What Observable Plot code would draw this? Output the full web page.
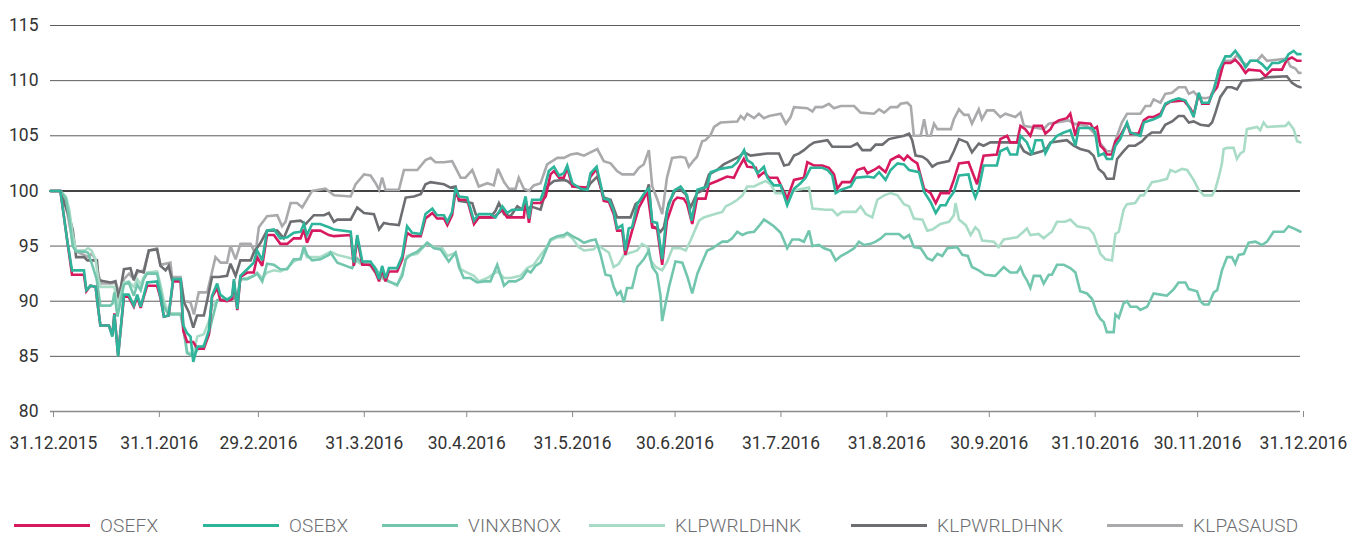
<!DOCTYPE html>
<html>
<head>
<meta charset="utf-8">
<script src="https://cdn.jsdelivr.net/npm/d3@7"></script>
<script src="https://cdn.jsdelivr.net/npm/@observablehq/plot@0.6"></script>
<style>
  html, body { margin: 0; padding: 0; background: #fff; }
  body { width: 1356px; height: 536px; position: relative; overflow: hidden;
         font-family: Roboto, "Noto Sans", "DejaVu Sans", sans-serif; }
  #chart svg { display: block; }
  #legend { position: absolute; left: 0; top: 513px; width: 1356px; height: 24px; }
  .item { position: absolute; top: 0; height: 24px; display: flex; align-items: center; }
  .sw { width: 76px; height: 3px; margin-right: 10px; }
  .lbl { font-size: 19px; font-weight: 300; color: #6d6e71; letter-spacing: 0.2px; }
</style>
</head>
<body>
<div id="chart"></div>
<div id="legend"></div>
<script>
// ---- categories / labels ----
const seriesNames = ["OSEFX", "OSEBX", "VINXBNOX", "KLPWRLDHNK", "KLPWRLDHNK", "KLPASAUSD"];
const tickDays = [0, 31, 60, 91, 121, 152, 182, 213, 244, 274, 305, 335, 366]; // days after 31.12.2015
const tickLabels = ["31.12.2015", "31.1.2016", "29.2.2016", "31.3.2016", "30.4.2016", "31.5.2016",
  "30.6.2016", "31.7.2016", "31.8.2016", "30.9.2016", "31.10.2016", "30.11.2016", "31.12.2016"];
const yTicks = [80, 85, 90, 95, 100, 105, 110, 115];

// ---- series values: [days after 31.12.2015, index value] ----
const osefx = [[0,100],[2.9,100],[4.9,95.5],[6.3,92.4],[9.8,92.4],[10.5,90.9],[11.7,91.4],[13.2,91.3],[13.9,89.5],[14.6,87.8],[17.1,87.8],[18.1,86.9],[18.7,88.9],[19.8,85.1],[21.5,90.4],[22.9,90.4],[24.4,89.5],[25.4,90.4],[26.4,89.4],[27.3,90.4],[28.3,91.4],[31.2,91.4],[32.2,90.3],[33.2,88.6],[34.6,88.7],[35.9,91.8],[38.1,91.8],[38.9,87.3],[40,86.3],[41.8,86.3],[43,85.7],[44.9,85.7],[46.4,87],[47.3,90.4],[48.8,91.2],[49.7,90.1],[51.7,90],[53.2,90.2],[53.7,91.8],[54.7,89.2],[55.6,92.2],[57.6,92.6],[59.5,92.6],[60.5,94],[62,93.2],[63.4,96],[65.4,96],[67.3,95.2],[69.3,95.2],[71.2,95.7],[73.2,95.7],[74.2,96.5],[75.1,95.3],[76.6,96.4],[79,96.4],[81.5,96],[83,95.9],[87.9,96],[88.8,93.2],[89.8,95.7],[91.3,93.3],[93.7,93.3],[95.2,92.6],[96.2,91.8],[97.1,92.9],[98.1,91.8],[99.1,92.7],[101.5,92.7],[103,93.8],[104.4,96.2],[105.9,95.9],[108.4,95.9],[109.8,97.5],[111.8,98],[113.2,97.5],[115.2,97.5],[116.2,96.9],[117.6,97.8],[118.6,100],[119.6,99.2],[122,99.2],[124,97],[125.4,97.6],[129.8,97.6],[132.3,98.3],[133.7,97.6],[138.6,97.6],[139.1,99.2],[140.1,97.1],[141,98.9],[143.5,98.9],[145,99.5],[146.4,101.5],[147.4,101.8],[148.9,101.2],[150.3,101.2],[151.3,102.1],[152.8,100.4],[157.2,100.3],[158.1,101.3],[159.9,102],[162,99.1],[163.5,99],[164.9,97.9],[165.9,96.4],[167.4,96.4],[168.3,94.2],[170.3,96.4],[172.3,98.5],[173.7,99.3],[174.7,100],[176.2,96.7],[177.6,96.6],[179.1,93.3],[180.5,97.3],[182.5,99.1],[183.5,99.4],[185.4,99.3],[186.4,98.8],[187.9,97],[189.3,99.3],[191.8,99.3],[192.8,100.6],[195.2,100.9],[198.1,101.3],[200.1,101.2],[201.5,102.1],[203,102.9],[204,102.2],[206.5,102.1],[207.4,101.3],[208.9,101.7],[210.4,101.2],[212.8,101.2],[215.7,99.3],[217.7,101],[220.6,101.2],[221.6,102.6],[223.6,102.3],[226,102.3],[227.9,102.1],[229.4,101.5],[230.4,100.2],[231.8,100.8],[234.3,100.8],[236.2,101.9],[238.2,102.1],[239.2,101.6],[241.1,101.9],[242.6,102.2],[244.5,101.7],[246,102.8],[248.4,103.2],[249.9,102.8],[250.9,103.2],[252.3,102.8],[253.8,102.5],[255.8,100.2],[257.7,99.8],[259.2,98.9],[260.6,99.8],[263.1,99.8],[264.5,101],[266,102.5],[268.8,102.6],[270.3,101.4],[271.3,100.6],[272.3,102],[273.2,103.2],[277.1,103.3],[278.1,104.7],[280.1,105],[281,104.4],[283,104.4],[284,105.9],[285.4,105.6],[286.9,105],[287.9,105.9],[290.3,105.9],[291.3,105.2],[292.8,105.6],[293.7,106.1],[295.2,106.4],[297.6,106.6],[298.6,107],[300.1,105],[301.1,106.2],[304.5,106.1],[305.4,105.6],[306.4,105.8],[307.4,104.1],[308.4,103.8],[309.3,103.3],[310.8,103.3],[311.8,104.5],[313.2,105],[315.2,106.1],[316.2,105.2],[318.6,105.2],[320.1,106.4],[321.5,106.7],[323,106.7],[325,107],[326.4,107.8],[327.9,108.1],[331.8,108.2],[333.7,107.5],[334.7,106.9],[336.2,108.8],[337.2,107.9],[339.1,107.9],[340.1,108.8],[341.6,109.4],[343.5,111.6],[345.5,111.6],[346.9,111.9],[348.4,111.4],[349.9,110.7],[350.8,111],[354.2,110.9],[355.7,110.4],[357.7,111],[360.6,111],[362,111.9],[363.5,112.1],[365,111.8],[366,111.8]];

const osebx = [[0,100],[2.9,100],[4.9,95.5],[6.3,92.8],[9.8,92.8],[10.5,91],[11.7,91.4],[13.2,91.3],[13.9,89.5],[14.6,87.8],[17.1,87.8],[18.1,86.8],[18.7,88.8],[19.8,85],[21.5,90.6],[22.9,90.6],[24.4,89.6],[25.4,90.6],[26.4,89.5],[27.3,90.5],[28.3,91.7],[31.2,91.8],[32.2,90.4],[33.2,88.6],[34.6,88.7],[35.9,92],[38.1,92],[38.9,87.8],[40,87.1],[41,86.8],[41.8,84.5],[43,85.9],[44.9,85.9],[46.4,87.4],[47.3,90.5],[48.8,91.6],[49.7,90.6],[51.7,90.1],[53.2,90.5],[53.7,92],[54.7,89.3],[55.6,92.3],[57.6,92.9],[59.5,93.5],[60.5,94.6],[62,93.7],[63.4,96.4],[65.4,96.5],[67.3,95.7],[69.3,95.8],[71.2,96.2],[73.2,96.3],[74.2,97],[75.1,96],[76.6,97],[79,97],[81.5,96.7],[83,96.5],[87.9,96.3],[88.8,93.5],[89.8,96],[91.3,93.6],[93.7,93.6],[95.2,92.9],[96.2,92],[97.1,93.2],[98.1,92.1],[99.1,93],[101.5,93],[103,94.1],[104.4,96.8],[105.9,96.2],[108.4,96.1],[109.8,97.9],[111.8,98.4],[113.2,97.8],[115.2,97.8],[116.2,97.2],[117.6,98.1],[118.6,100.3],[119.6,99.5],[122,99.4],[124,97.3],[125.4,97.9],[128.8,97.9],[130.3,97.6],[132.3,98.6],[133.7,98],[135.2,98.3],[138.1,98.3],[139.1,99.5],[140.1,97.5],[141,99.2],[143.5,99.2],[144.5,100.1],[145.9,101.8],[147.4,102.2],[148.9,101.4],[150.3,101.6],[151.3,102.3],[152.8,100.7],[155.2,100.2],[157.2,100.1],[158.1,101.6],[159.9,102.2],[162,99.3],[163.5,99.2],[164.9,98.2],[165.9,96.6],[167.4,96.9],[168.3,94.6],[169.3,96.6],[170.3,96.7],[171.8,98.8],[173.7,99.7],[174.7,100.1],[175.2,100.2],[176.2,97.2],[177.6,97.1],[179.1,93.8],[180.5,98.2],[182.5,100],[184.5,100.4],[186.4,99.6],[187.7,97.3],[189.4,100.1],[192.3,100.4],[193.3,101.7],[196.2,102],[199.6,102.2],[201.1,102.6],[203.1,103.7],[204,102.8],[205.5,102.5],[207,101.6],[208.9,102.2],[209.9,101.2],[211.8,100.5],[213.8,100.5],[215.7,98.7],[217.7,100.2],[219.6,100.7],[221.1,101.2],[222.6,102.1],[226,102.1],[227.5,101.9],[228.9,101.4],[229.9,99.8],[231.4,100.1],[234.3,100.4],[235.8,101.2],[239.2,101.3],[241.1,101.2],[242.6,101.7],[244.5,101],[246,101.9],[248,102.5],[249.9,102.4],[251.4,101.9],[254.3,101.7],[255.8,99.9],[257.7,99],[259.2,98],[260.6,98.7],[262.1,98.7],[263.1,99.3],[264.5,99.9],[266,101.4],[268.8,101.5],[269.8,100.2],[270.8,99.4],[271.8,100.2],[273.2,102.3],[277.1,102.3],[278.1,103.6],[280.1,103.9],[281,103.3],[283,103.3],[284,105],[285.9,104.4],[287.4,103.3],[288.4,104.6],[290.3,104.6],[291.3,103.4],[292.8,104.3],[294.7,105],[296.7,105.3],[298.6,105.5],[300.1,104.1],[301.1,105.7],[305,105.7],[305.9,105.3],[306.9,103.2],[308.4,103.4],[309.3,102.9],[310.8,102.9],[311.8,104.1],[313.2,104.7],[315.2,106.2],[316.2,105.3],[319.1,105],[320.1,106.2],[323,106.5],[325,106.8],[326.4,107.9],[328.4,108.2],[330.3,108.4],[332.3,108.2],[333.7,107.4],[334.7,106.7],[336.2,108.9],[337.2,108],[339.1,108],[340.6,109.1],[342,110.9],[344,112.2],[345.5,112.2],[346.9,112.7],[348.4,112.1],[349.9,111.2],[351.3,111.8],[353.3,111.8],[354.7,111.5],[356.2,111],[357.7,111.6],[359.6,111.6],[361.6,111.9],[362.5,112.4],[364,112.7],[365,112.4],[366,112.4]];

const vinxbnox = [[0,100],[2.9,100],[4.5,99.3],[5.5,97.5],[6.5,95],[7.5,94.5],[10,94.5],[11,94.4],[12,93.5],[13.5,92],[14.6,89.6],[17.5,89.6],[18.2,89.8],[18.7,90.8],[19.6,88.6],[21.5,91.5],[22.9,91.7],[24.4,90.5],[25.4,91.5],[26.4,91],[27.3,92],[28.3,92.5],[31.2,92.5],[32.2,91],[33.2,89.5],[34.6,88.8],[38.1,88.8],[38.9,87.5],[40,85.3],[41.8,85],[43,85.6],[44.9,86],[46.4,87.1],[47.3,88.3],[48.8,90.1],[53.2,90.2],[54.7,90.3],[55.6,92],[57.6,92],[59.5,92.3],[60.5,92.5],[62,91.8],[63.4,93.4],[65.4,93.3],[67.3,92.9],[69.3,92.9],[71.2,93.8],[73.2,93.8],[74.2,95],[75.1,94.2],[76.6,93.7],[79,93.8],[81.5,94.2],[82,94.4],[84,93.5],[88.3,93],[89.8,93.9],[91.3,93.4],[94.7,93.2],[96.2,92.5],[97.6,92.1],[99.1,91.8],[101.5,91.5],[103,92.3],[104,93.8],[105.4,94.2],[107.4,94.5],[109.3,95],[110.3,95.3],[112.3,94.8],[114.2,94.7],[116.6,93.6],[118.6,94.4],[119.6,93.1],[121,92.1],[123,92.1],[124.9,91.7],[126.9,91.8],[128.8,91.8],[130.8,93.3],[132.8,91.4],[134.2,91.8],[136.2,91.8],[138.1,92.1],[139.6,92.8],[140.6,92.6],[142,93.2],[143.5,93.5],[144.5,94.2],[146.4,95.6],[148.4,95.9],[150.3,96],[151.3,96.2],[152.8,95.9],[154.7,95.6],[156.2,95.3],[158.1,95.5],[159.6,95.6],[161,94.3],[162.5,92.4],[164,92.3],[164.9,91.3],[165.9,90.6],[166.9,90.9],[167.9,89.9],[168.8,91.2],[170.3,91.2],[171.8,93.1],[173.7,93.8],[175.2,94.6],[176.2,93.1],[177.6,92.5],[178.6,90.5],[179.1,88.2],[180.1,89.8],[181.1,91.3],[183,93.6],[185,93.5],[186.5,92.2],[187.9,90.7],[189.4,92.5],[190.9,93.6],[192.3,94.6],[193.8,94.8],[195.2,95.1],[196.7,95.4],[198.2,95.4],[199.6,95.7],[201.1,96.3],[202.6,96],[204,96.2],[206,96.3],[207.4,96.8],[208.9,97.4],[210.4,97.1],[211.8,96.8],[213.8,96.2],[215.7,94.8],[217.2,95.6],[219.2,95.6],[220.6,95.4],[222.1,96.4],[223.1,95],[225,95.1],[226.5,94.8],[228.4,94.6],[229.9,93.7],[231.4,94.1],[233.3,94.4],[235.3,94.8],[236.7,95.4],[238.2,95.1],[240.1,95.2],[241.6,95.4],[243.1,95.7],[244.5,96.1],[248.4,96.1],[249.9,95.7],[251.4,96],[252.8,94.9],[254.8,94.8],[256.7,93.9],[258.2,93.7],[259.7,94.3],[261.1,94.1],[262.6,94.8],[265.5,94.9],[267,94.2],[268.6,94.1],[269.8,93.1],[271.8,92.8],[273.7,92.4],[276.6,92.3],[279.1,93.1],[281,92.6],[283,92.6],[284,93.1],[284.9,92.4],[285.9,91.9],[286.9,91.2],[287.9,92.3],[289.8,92.3],[290.8,91.6],[292.3,92.4],[293.2,92.4],[294.7,93.3],[296.7,93.3],[298.6,93],[300.1,92.6],[301.5,90.9],[303.5,90.7],[305,90.2],[306.4,88.9],[307.4,88.4],[308.4,88.1],[309.3,87.2],[311.3,87.2],[311.8,88.8],[312.8,88.5],[314.2,89.8],[315.2,90],[316.2,89.5],[318.1,89.5],[319.1,89.2],[321.1,89.5],[323,90.7],[325,90.6],[326.9,90.5],[328.9,91.1],[330.3,91.7],[332.3,91.7],[333.3,91.1],[335.7,90.9],[336.7,90],[337.7,89.7],[339.1,89.7],[340.6,90.8],[341.6,91],[343,92.8],[344.5,94],[345.9,94],[346.9,93.4],[347.9,94.2],[349.4,94.3],[350.8,95.3],[352.8,95.4],[354.7,95.1],[356.2,95.4],[358.1,96.3],[361.1,96.3],[362.5,96.8],[364,96.6],[366,96.3]];

const klpwrldhnkLight = [[0,100],[2.9,100],[4.5,99.5],[5.5,98.3],[6.5,96],[7.5,94.6],[10,94.6],[11,94.8],[12,94.6],[13.2,93.8],[14,92],[14.6,91.3],[18.7,91.3],[19.6,89.5],[21.5,91.7],[22.9,91.8],[24.4,91.3],[25.4,92],[26.4,91.5],[27.3,92.2],[28.3,92.6],[31.2,92.7],[32.2,91.5],[33.2,90],[34.6,88.9],[38.1,88.9],[38.9,87.8],[40,85.4],[41.8,85.2],[43,86.8],[44.9,87],[46.4,88.2],[47.3,89.5],[48.8,90.1],[53.2,90.3],[54.7,90.5],[55.6,92],[57.6,92.1],[59.5,92.3],[60.5,92.6],[62,92.1],[63.4,92.6],[65.4,92.8],[67.3,92.7],[69.3,93],[71.2,93.6],[73.2,93.9],[74.2,94.6],[75.1,94],[79,94],[82,94.5],[84,94.2],[87.9,93.9],[90.8,93.4],[92.7,93.6],[95.7,92.3],[98.1,91.9],[99.6,91.7],[101.5,91.4],[103,92.6],[104.4,94.1],[107.4,94.3],[110.3,95.3],[112.3,94.9],[114.7,94.8],[116.2,94.1],[118.6,94.4],[120.1,92.9],[122,92.6],[124,92.3],[125.4,91.8],[127.9,92.1],[130.8,92.7],[132.8,92.1],[134.7,92.1],[137.6,92.3],[139.6,93],[141.5,93.3],[143.5,94.2],[145,94.8],[146.4,95.5],[148.4,95.8],[150.3,95.8],[151.3,96.1],[152.8,95.7],[154.7,94.9],[156.2,94.6],[159.1,94.7],[160.1,95.1],[163.5,94.4],[164.9,93.1],[166.4,93.4],[167.9,94.2],[171.8,94.6],[173.2,95.2],[174.8,94.9],[175.7,93.7],[177.2,93.1],[179.1,92.8],[180.6,93.6],[182.1,94.8],[184.5,94.8],[186,94.6],[187.4,95.5],[189.9,97.3],[191.3,97.6],[193.3,97.8],[196.7,98.1],[197.7,98.6],[199.6,98.9],[201.1,99.2],[202.6,99.6],[204,100.4],[206,100.4],[207.9,100.7],[209.4,100.9],[210.9,100.6],[212.3,99.8],[214.3,99.8],[216.2,99.9],[218.7,100.1],[222.1,100.3],[223.1,98.4],[227,98.3],[228.9,98.3],[230.4,97.8],[231.8,98.1],[235.8,98.1],[237.2,98.6],[238.7,97.9],[240.6,97.6],[242.1,99.2],[244.1,99.6],[246,99.8],[248,99.6],[249.9,98.8],[251.4,98.6],[252.8,97.5],[255.3,97.4],[256.7,96.4],[258.2,96.5],[260.6,97],[263.1,97.2],[264.5,97.8],[265,98.9],[266,97.4],[268,96.9],[269.4,96],[270.8,96.7],[271.8,96.4],[272.8,95.5],[276.2,95.4],[277.6,94.9],[279.1,95.6],[283,95.8],[284.9,96.3],[285.9,96.6],[286.9,96],[289.3,96.1],[290.8,95.7],[292.3,96.1],[293.2,96.3],[294.7,97.2],[297.1,97.2],[298.6,97.4],[300.6,96.8],[304,96.6],[305.4,96.1],[306.4,95.2],[307.4,94.3],[308.9,93.8],[310.8,93.7],[311.8,96.1],[312.8,96.3],[314.2,98.3],[315.2,98.8],[317.6,98.9],[319.1,99.6],[320.1,99.6],[321.1,100.1],[322.5,100.8],[324.5,100.9],[326.9,101.1],[327.9,101.9],[329.4,101.7],[331.3,102],[332.8,101.9],[334.7,101],[336.2,100.1],[337.7,99.6],[340.1,99.6],[341.1,100.2],[342.1,101.3],[343,102.5],[343.5,103.8],[344.5,103.9],[346.4,103.9],[347.4,102.9],[348.4,103.4],[349.4,103.6],[350.3,105.6],[353.3,105.8],[354.2,105.5],[355.2,106.2],[356.2,105.8],[361.6,105.9],[362.5,106.2],[364,105.6],[365,104.5],[366,104.4]];

const klpwrldhnkDark = [[0,100],[2.9,100],[4.5,98.5],[5.5,97.6],[6.5,96.5],[7.5,94],[9.8,94],[10.8,93.7],[13.6,93.7],[14.1,91.9],[17.6,91.7],[19,91.8],[20,90.2],[21.5,92.9],[23.4,93],[24.4,91.9],[25.4,92.8],[27.3,92.6],[28.8,94.6],[31.2,94.7],[32.2,93.2],[33.7,92.8],[34.6,93.2],[35.6,91.9],[38.1,91.9],[39.1,89.9],[40.5,89],[41.8,87.6],[42.9,88.7],[44.9,88.7],[45.9,90.1],[47.3,92.2],[49.3,92.2],[51.7,92.3],[52.7,93.4],[54.2,92.3],[55.6,93.7],[58.6,93.7],[59.5,94.4],[61.5,95.3],[63.4,96.4],[66.4,96.4],[68.3,95.7],[70.3,97.2],[73.2,97.3],[74.7,97],[77.1,97.8],[80.1,97.8],[81.5,98],[83,97.2],[84,97.4],[87.9,97.4],[89.8,98.5],[91.8,98],[94.7,97.9],[96.2,96.5],[97.6,97.1],[99.1,97],[102,96.9],[104,99.4],[106.4,99.5],[108.4,99.7],[109.8,100.6],[111.3,100.8],[115.2,100.6],[117.1,100.3],[118.6,100.4],[119.6,99.1],[123.5,98.9],[124.5,97.9],[125.4,97.6],[128.8,97.6],[130.3,98.2],[131.3,98.9],[132.8,97.9],[134.7,97.7],[136.7,98.6],[138.1,98.3],[139.6,98.3],[140.6,98.6],[143.5,98.3],[145.4,100.4],[147.4,100.9],[150.3,101],[151.3,100.9],[153.3,100.4],[157.2,100.2],[158.1,100.7],[160.1,101.3],[162,99.4],[164,99.2],[165.9,97.6],[169.8,97.6],[171.3,98.8],[172.7,99.1],[174.2,99.6],[175.2,100.6],[176.2,96.8],[177.6,96.6],[178.6,96.3],[179.6,96.7],[181,98.9],[183,100.1],[184.5,100.1],[186,99.7],[187.4,98.5],[189.3,99.8],[191.3,100.1],[192.8,101.5],[195.2,101.9],[197.1,102.4],[199.6,102.8],[201.6,103.1],[203.1,103.5],[205,103.2],[209.9,103.4],[213.3,103.4],[214.8,102.3],[216.2,102.4],[217.7,103.2],[219.2,103.4],[220.6,103.7],[222.1,104.1],[223.6,104.4],[227.5,104.6],[228.9,104],[234.3,104],[236.2,104.3],[237.7,103.7],[240.1,103.7],[241.6,104.2],[243.6,104.2],[245.5,104.7],[249.9,105],[251.4,105.2],[252.3,104.6],[253.3,103.2],[255.3,103.1],[256.7,102.8],[258.2,102.2],[259.7,102.5],[263.1,102.7],[264.5,103.6],[266,104.7],[268.4,104.4],[269.8,103.5],[271.8,104.3],[273.2,104.1],[275.2,104.4],[283.5,104.4],[285,103.6],[286.9,103.3],[290.3,103.6],[291.8,103.9],[292.8,104.4],[297.6,104.6],[299.6,104.1],[301.5,103.8],[304,103.6],[305.4,103.2],[306.9,102],[308.4,101.6],[309.3,101.1],[311.3,101.1],[312.3,102.9],[314.2,103.6],[315.7,104.1],[317.6,104.1],[319.6,104.5],[321.1,105],[322.5,105.3],[325,105.3],[326.4,106],[328.4,106.3],[330.3,106.8],[331.8,106.8],[333.3,106.2],[334.7,106.3],[336.7,106],[339.1,105.9],[340.1,106.2],[341.1,107.1],[342.5,108.5],[344.5,109.4],[345.9,109.4],[347.4,109.2],[348.9,110],[354.2,110.1],[355.7,110.3],[362,110.4],[363.5,109.8],[365,109.5],[366,109.4]];

const klpasausd = [[0,100],[2.9,100],[4.5,98.8],[5.5,97],[6.5,95.5],[7.5,94.5],[9.8,94.2],[11,94],[12,94.3],[13.2,93.8],[14.1,92.3],[15,91.6],[18,91.6],[19,91.8],[20,90.8],[21.5,92],[23,92.5],[24.4,92],[25.4,92.6],[27.3,92.8],[28.8,94.6],[31.2,94.8],[32.2,93.3],[35.1,93.5],[35.6,92.2],[38.1,92.2],[39.1,90],[41,89.9],[42,88.8],[43.4,90.8],[45.9,90.8],[46.8,92],[48.3,94],[49.8,93.5],[51.7,93.5],[52.7,95],[54.2,93.8],[55.6,95.2],[58.6,95.2],[60,94.3],[61,96.7],[63.4,97.7],[66.4,97.8],[67.8,96.8],[68.8,97.2],[70.3,98.9],[72.2,98.9],[73.7,98.5],[76.6,100],[80.5,100.2],[83,99.6],[87.9,99.5],[89.3,100.6],[91.8,101.5],[93.7,101.4],[95.2,100.7],[96.2,100.1],[97.1,101.2],[98.1,100.1],[102,100.1],[103.5,101.9],[107.4,101.9],[109.8,102.8],[111.3,103],[112.7,102.6],[115.2,102.6],[117.6,102.7],[120.1,101.2],[121.5,101.2],[123.5,101.9],[125.4,100.4],[127.9,100.7],[129.8,100.5],[131,102],[132.8,100.8],[134.2,100.2],[136.2,100.2],[137.1,101.2],[138.6,100.2],[140.1,100],[141.5,100.5],[143.5,100.7],[145.4,102.4],[148.4,103],[150.3,103],[152.3,103.3],[154.2,103.4],[156.2,103.2],[158.1,103.5],[160.1,103.8],[162,102.7],[164,102.5],[165.9,101.8],[167.4,101.5],[170.8,101.5],[172.3,102.1],[173.7,102.4],[175.2,103.7],[176.2,100.4],[177.6,99.3],[179.1,97.9],[180.5,101.2],[182,103],[184.5,103.1],[185.9,103],[186.9,102.2],[188.4,102.8],[189.3,103.1],[190.8,104.5],[191.8,104.6],[193.3,105.1],[194.3,105.8],[196.2,106.2],[201.1,106.3],[202.1,106.8],[203.1,106.5],[204,107],[206,106.6],[207.4,107],[208.9,106.6],[210.4,106.8],[213.8,107],[215.3,106.1],[216.7,106.7],[217.7,107.6],[221.6,107.5],[223.1,107.2],[224,107.6],[226,107.6],[227.9,107.9],[229.4,107.5],[231.4,107.7],[235.3,107.7],[237.2,107.1],[241.1,107],[242.6,107.4],[244.1,107.1],[246,107.6],[248,107.6],[248.9,107.9],[250.9,108],[251.9,107.7],[252.8,105],[254.8,105],[255.8,106.5],[256.7,105],[257.7,105],[258.7,106.1],[259.7,105.6],[263.6,105.6],[264.5,106.5],[266,107.4],[267.5,106.9],[268.8,106.9],[269.8,106.1],[271.8,107.4],[272.7,106.5],[274.2,107.3],[276.2,107.3],[278.1,106.7],[279.6,107],[282.5,106.7],[284,107.1],[285,105.9],[290.8,105.6],[292.3,106.1],[298.1,106.4],[299.6,106.1],[303.5,105.9],[305.4,105.3],[307.4,104.3],[309.3,103.6],[310.8,103.6],[312.3,105],[313.7,106.2],[315.2,107],[319.1,107],[320.6,107.7],[322,107.7],[323,108.3],[325,108],[326.4,108.8],[328.4,108.9],[330.3,109.4],[332.3,109.4],[333.3,108.8],[334.7,109],[336.2,108.5],[338.1,108.4],[339.6,108.5],[340.6,109.3],[341.6,110.2],[342.5,110.9],[344,111.8],[345.9,111.8],[347.4,112.3],[348.9,111.7],[350.3,111.4],[351.3,111.8],[353.3,111.8],[354.7,112.3],[356.2,111.8],[362,112],[363,111.3],[364.5,111.1],[365.5,110.7],[366,110.7]];

// ---- styling (not data) ----
const colors = ["#d7195f", "#2db49b", "#72c6ae", "#a9dcc6", "#6d6e72", "#aaaaad"];
const seriesData = [osefx, osebx, vinxbnox, klpwrldhnkLight, klpwrldhnkDark, klpasausd];
const drawOrder = [5, 4, 3, 2, 0, 1];
const legendLeft = [14, 203, 382, 589, 851, 1107];

const font = 'Roboto, "Noto Sans", sans-serif';

const plot = Plot.plot({
  width: 1356,
  height: 480,
  marginLeft: 50,
  marginRight: 56,
  marginTop: 25,
  marginBottom: 69,
  style: { fontFamily: font, background: "#fff", overflow: "visible" },
  x: { type: "linear", domain: [0, 366] },
  y: { domain: [80, 115] },
  marks: [
    Plot.ruleY(yTicks.filter(v => v !== 80 && v !== 100), { stroke: "#5c5c5c", strokeWidth: 1 }),
    Plot.ruleY([100], { stroke: "#444", strokeWidth: 2 }),
    Plot.ruleY([80], { stroke: "#8a8a8a", strokeWidth: 1.5 }),
    Plot.axisY(yTicks, { tickSize: 0, tickPadding: 12, fontSize: 17.5, fill: "#333", label: null }),
    Plot.axisX(tickDays, {
      tickSize: 6, tickPadding: 19, fontSize: 17.5, fill: "#333", stroke: "#8a8a8a",
      dx: 3, label: null,
      tickFormat: d => tickLabels[tickDays.indexOf(d)]
    }),
    ...drawOrder.map(i => Plot.line(seriesData[i], {
      x: d => d[0], y: d => d[1], stroke: colors[i], strokeWidth: 2.6, strokeLinejoin: "miter", strokeMiterlimit: 3
    }))
  ]
});
document.getElementById("chart").appendChild(plot);

const legend = document.getElementById("legend");
seriesNames.forEach((name, i) => {
  const item = document.createElement("div");
  item.className = "item";
  item.style.left = legendLeft[i] + "px";
  const sw = document.createElement("div");
  sw.className = "sw";
  sw.style.background = colors[i];
  const lbl = document.createElement("span");
  lbl.className = "lbl";
  lbl.textContent = name;
  item.appendChild(sw);
  item.appendChild(lbl);
  legend.appendChild(item);
});
</script>
</body>
</html>
